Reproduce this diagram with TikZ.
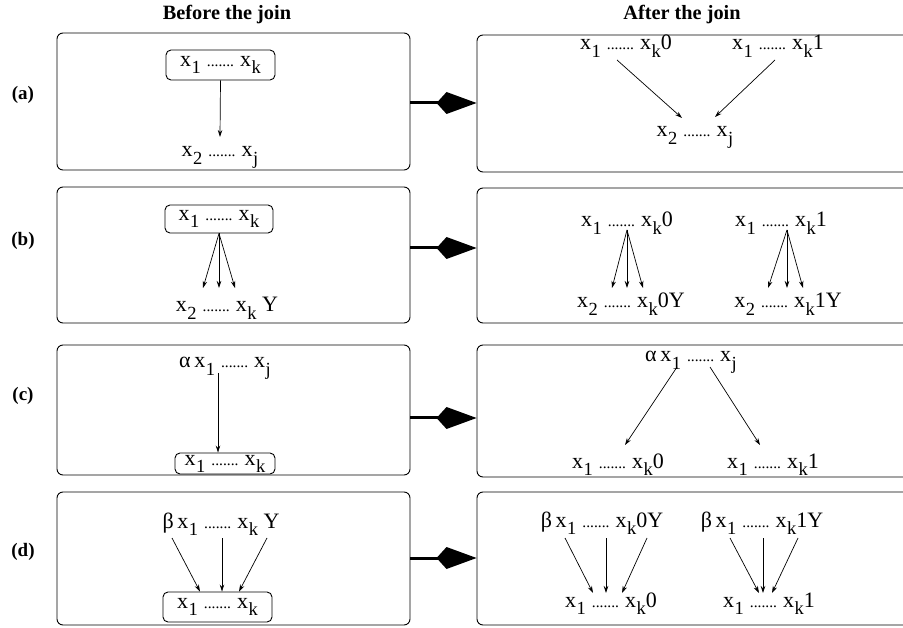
\documentclass[tikz,border=0pt]{standalone}
\usepackage{fontspec}
\setmainfont{Liberation Serif}
\usetikzlibrary{arrows.meta}
\newcommand{\xs}[1]{x\kern0.5pt\raisebox{-0.32em}{\fontsize{18.5}{18.5}\selectfont #1}}
\newcommand{\dd}{\kern6pt{\fontsize{15.5}{16}\selectfont .......}\kern6pt}
\begin{document}
\begin{tikzpicture}[x=1pt,y=-1pt,
  every node/.style={inner sep=0pt, font=\fontsize{22}{24}\selectfont},
  panel/.style={draw, line width=0.9pt, rounded corners=6pt},
  ibox/.style={draw, line width=0.9pt, rounded corners=5pt},
  lbl/.style={font=\fontsize{20.3}{23}\selectfont\bfseries},
  rowlbl/.style={font=\fontsize{19}{22}\selectfont\bfseries},
  arr/.style={-{Stealth[length=7pt,width=4.5pt]}, line width=0.7pt},
  joinarrow/.style={line width=3pt, -{Kite[length=40pt,width=22pt,inset=10pt]}}
]
\useasboundingbox (0,0) rectangle (903,628);
\clip (0,0) rectangle (903,628);

% headings and row labels
\node[lbl] (h1) at (227,15) {Before the join};
\node[lbl] (h2) at (682,15) {After the join};
\node[rowlbl] (la) at (23,95) {(a)};
\node[rowlbl] (lb) at (23,241) {(b)};
\node[rowlbl] (lc) at (23,396) {(c)};
\node[rowlbl] (ld) at (23,552) {(d)};

% panels
\node[panel, minimum width=353pt, minimum height=137pt] (pla) at (233.5,101.5) {};
\node[panel, minimum width=433pt, minimum height=137pt] (pra) at (693.5,103.5) {};
\node[panel, minimum width=353pt, minimum height=136pt] (plb) at (233.5,255) {};
\node[panel, minimum width=433pt, minimum height=135pt] (prb) at (693.5,255.5) {};
\node[panel, minimum width=353pt, minimum height=130pt] (plc) at (233.5,410) {};
\node[panel, minimum width=433pt, minimum height=132pt] (prc) at (693.5,411) {};
\node[panel, minimum width=353pt, minimum height=133pt] (pld) at (233.5,558.5) {};
\node[panel, minimum width=433pt, minimum height=133pt] (prd) at (693.5,558.5) {};

% join connectors
\draw[joinarrow] (pla.east |- 0,103) -- (pra.west |- 0,103);
\draw[joinarrow] (plb.east |- 0,248) -- (prb.west |- 0,248);
\draw[joinarrow] (plc.east |- 0,418) -- (prc.west |- 0,418);
\draw[joinarrow] (pld.east |- 0,558) -- (prd.west |- 0,558);

% ---- row (a)
\node[ibox, minimum width=109pt, minimum height=30pt] (a1) at (220.5,65) {\xs{1}\dd\xs{k}};
\node[anchor=base] (a2) at (220,157) {\xs{2}\dd\xs{j}};
\draw[arr] (a1.south) -- ([shift={(0,-20)}]a2.base);

\node[anchor=base] (ra1) at (626,50) {\xs{1}\dd\xs{k}0};
\node[anchor=base] (ra2) at (778,50) {\xs{1}\dd\xs{k}1};
\node[anchor=base] (ra3) at (695,137) {\xs{2}\dd\xs{j}};
\draw[arr] ([shift={(-9,10)}]ra1.base) -- ([shift={(-13,-19)}]ra3.base);
\draw[arr] ([shift={(-3,10)}]ra2.base) -- ([shift={(20,-20)}]ra3.base);

% ---- row (b)
\node[ibox, minimum width=108pt, minimum height=28pt] (b1) at (219,219) {\xs{1}\dd\xs{k}};
\node[anchor=base] (b2) at (227,312) {\xs{2}\dd\xs{k}\ Y};
\draw[arr] (b1.south) -- ([shift={(-24,-24)}]b2.base);
\draw[arr] (b1.south) -- ([shift={(-8,-24)}]b2.base);
\draw[arr] (b1.south) -- ([shift={(8,-24)}]b2.base);

\node[anchor=base] (rb1) at (627,227) {\xs{1}\dd\xs{k}0};
\node[anchor=base] (rb2) at (631,308) {\xs{2}\dd\xs{k}0Y};
\node[anchor=base] (rb3) at (781,227) {\xs{1}\dd\xs{k}1};
\node[anchor=base] (rb4) at (788,308) {\xs{2}\dd\xs{k}1Y};
\draw[arr] ([shift={(0,3)}]rb1.base) -- ([shift={(-19,-20)}]rb2.base);
\draw[arr] ([shift={(0,3)}]rb1.base) -- ([shift={(-4,-20)}]rb2.base);
\draw[arr] ([shift={(0,3)}]rb1.base) -- ([shift={(12,-20)}]rb2.base);
\draw[arr] ([shift={(6,3)}]rb3.base) -- ([shift={(-20,-20)}]rb4.base);
\draw[arr] ([shift={(6,3)}]rb3.base) -- ([shift={(-1,-20)}]rb4.base);
\draw[arr] ([shift={(6,3)}]rb3.base) -- ([shift={(15,-20)}]rb4.base);

% ---- row (c)
\node[anchor=base] (c1) at (225,368) {α\,\xs{1}\dd\xs{j}};
\node[ibox, minimum width=100pt, minimum height=21pt] (c2) at (225,463.5) {\xs{1}\dd\xs{k}};
\draw[arr] ([shift={(-7,5)}]c1.base) -- ([shift={(-7,0)}]c2.north);

\node[anchor=base] (rc1) at (691,362) {α\,\xs{1}\dd\xs{j}};
\node[anchor=base] (rc2) at (618,468) {\xs{1}\dd\xs{k}0};
\node[anchor=base] (rc3) at (773,468) {\xs{1}\dd\xs{k}1};
\draw[arr] ([shift={(-14,5)}]rc1.base) -- ([shift={(7,-23)}]rc2.base);
\draw[arr] ([shift={(19,5)}]rc1.base) -- ([shift={(-13,-23)}]rc3.base);

% ---- row (d)
\node[anchor=base] (d1) at (221,528) {β\,\xs{1}\dd\xs{k}\ Y};
\node[ibox, minimum width=109pt, minimum height=30pt] (d2) at (217.5,607) {\xs{1}\dd\xs{k}};
\draw[arr] ([shift={(-49,10)}]d1.base) -- ([shift={(-17.5,0)}]d2.north);
\draw[arr] ([shift={(1,10)}]d1.base) -- ([shift={(4.5,0)}]d2.north);
\draw[arr] ([shift={(46,10)}]d1.base) -- ([shift={(21.5,0)}]d2.north);

\node[anchor=base] (rd1) at (602,527) {β\,\xs{1}\dd\xs{k}0Y};
\node[anchor=base] (rd2) at (762,527) {β\,\xs{1}\dd\xs{k}1Y};
\node[anchor=base] (rd3) at (611,607) {\xs{1}\dd\xs{k}0};
\node[anchor=base] (rd4) at (769,607) {\xs{1}\dd\xs{k}1};
\draw[arr] ([shift={(-37,11)}]rd1.base) -- ([shift={(-18,-14)}]rd3.base);
\draw[arr] ([shift={(4,11)}]rd1.base) -- ([shift={(-5,-14)}]rd3.base);
\draw[arr] ([shift={(45,11)}]rd1.base) -- ([shift={(11,-14)}]rd3.base);
\draw[arr] ([shift={(-32,11)}]rd2.base) -- ([shift={(-10,-14)}]rd4.base);
\draw[arr] ([shift={(1,11)}]rd2.base) -- ([shift={(-6,-14)}]rd4.base);
\draw[arr] ([shift={(36,11)}]rd2.base) -- ([shift={(3,-14)}]rd4.base);
\end{tikzpicture}
\end{document}
